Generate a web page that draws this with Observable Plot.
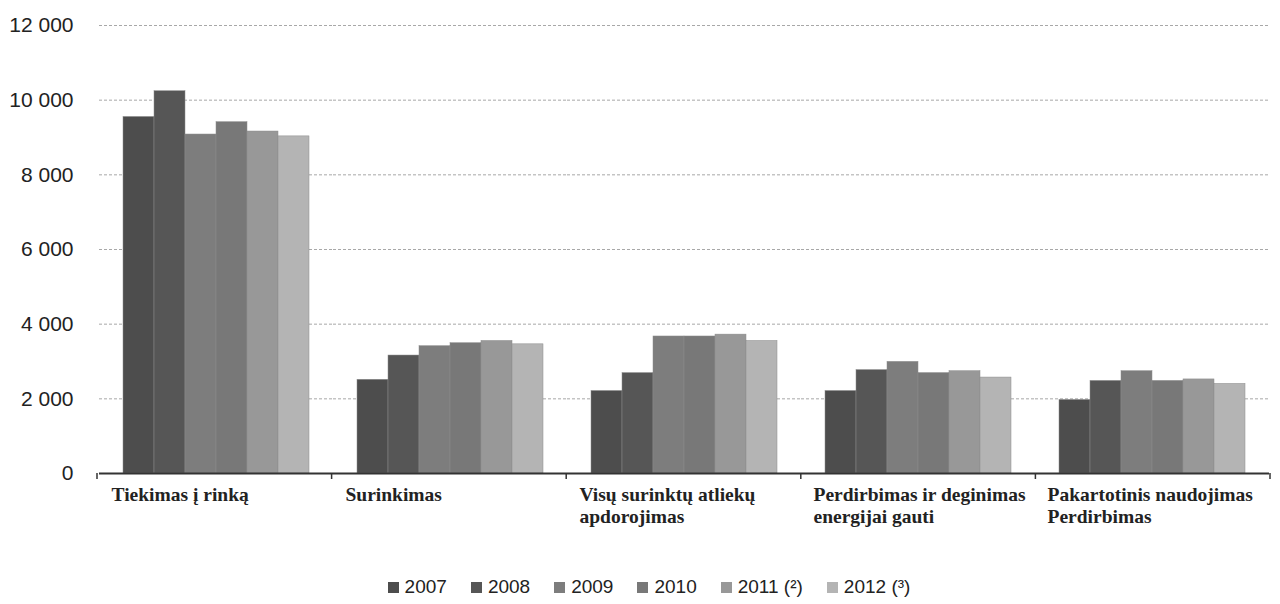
<!DOCTYPE html>
<html lang="lt">
<head>
<meta charset="utf-8">
<script src="https://cdn.jsdelivr.net/npm/d3@7"></script>
<script src="https://cdn.jsdelivr.net/npm/@observablehq/plot@0.6"></script>
<style>
  html, body { margin: 0; padding: 0; background: #fff; }
  #chart { width: 1280px; }
  .legend {
    display: flex; justify-content: center; align-items: center; gap: 24px;
    font-family: "Liberation Sans", Arial, sans-serif; font-size: 19px; color: #222;
    padding-top: 16px; line-height: 22px; padding-left: 18px;
  }
  .legend .item { display: flex; align-items: center; }
  .legend .sw { width: 11px; height: 11px; margin-right: 6px; display: inline-block; }
</style>
</head>
<body>
<div id="chart"></div>
<script>
// Waste categories (x groups)
const categories = [
  "Tiekimas į rinką",
  "Surinkimas",
  "Visų surinktų atliekų\napdorojimas",
  "Perdirbimas ir deginimas\nenergijai gauti",
  "Pakartotinis naudojimas\nPerdirbimas"
];

// Series labels (years) and their grey fills
const years = ["2007", "2008", "2009", "2010", "2011 (²)", "2012 (³)"];
const yearColors = ["#4d4d4d", "#565656", "#7d7d7d", "#787878", "#989898", "#b4b4b4"];

// Tonnes per category, one array per year
const values2007 = [9550, 2510, 2210, 2210, 1970];
const values2008 = [10240, 3160, 2690, 2770, 2480];
const values2009 = [9080, 3410, 3670, 2990, 2740];
const values2010 = [9410, 3490, 3670, 2690, 2480];
const values2011 = [9160, 3550, 3720, 2740, 2520];
const values2012 = [9030, 3460, 3550, 2570, 2400];

// Y axis ticks
const yTicks = [0, 2000, 4000, 6000, 8000, 10000, 12000];

const series = [values2007, values2008, values2009, values2010, values2011, values2012];
const rows = [];
categories.forEach((c, i) => {
  years.forEach((yr, j) => rows.push({category: c, year: yr, value: series[j][i]}));
});

const fmt = d => d3.format(",")(d).replace(/,/g, " ");

const chart = Plot.plot({
  width: 1280,
  height: 560,
  marginTop: 25,
  marginBottom: 87,
  marginLeft: 97,
  marginRight: 10,
  style: {fontFamily: "'Liberation Sans', Arial, sans-serif", fontSize: "21px", color: "#222", background: "#fff"},
  fx: {domain: categories, padding: 0, axis: null},
  x: {domain: years, paddingInner: 0, paddingOuter: 0.73, axis: null},
  y: {domain: [0, 12000], ticks: yTicks, tickFormat: fmt, tickSize: 0, tickPadding: 26, label: null},
  color: {domain: years, range: yearColors},
  marks: [
    Plot.gridY(yTicks.filter(d => d > 0), {stroke: "#a8a8a8", strokeOpacity: 1, strokeDasharray: "3,2"}),
    Plot.barY(rows, {fx: "category", x: "year", y: "value", fill: "year", stroke: "#8c8c8c", strokeWidth: 0.5}),
    Plot.ruleY([0], {stroke: "#333", strokeWidth: 2}),
    Plot.text(categories, {
      fx: d => d, text: d => d,
      frameAnchor: "bottom-left", textAnchor: "start", lineAnchor: "top",
      dx: 12, dy: 13, lineHeight: 1.08,
      fontFamily: "'Liberation Serif', 'Times New Roman', serif", fontWeight: "bold", fontSize: 19.5, fill: "#222"
    })
  ]
});

// Category separator ticks below the baseline
{
  const fxs = chart.scale("fx");
  const ys = chart.scale("y");
  const band = d3.scaleBand(fxs.domain, fxs.range).padding(0);
  const y0 = d3.scaleLinear(ys.domain, ys.range)(0);
  const edges = categories.map(c => band(c)).concat([band(categories[categories.length - 1]) + band.bandwidth()]);
  const g = d3.select(chart).append("g").attr("stroke", "#333").attr("stroke-width", 1.5);
  g.selectAll("line").data(edges).join("line")
    .attr("x1", d => d).attr("x2", d => d)
    .attr("y1", y0).attr("y2", y0 + 6);
}

document.getElementById("chart").append(chart);

// Legend
const legend = d3.select("#chart").append("div").attr("class", "legend");
const items = legend.selectAll(".item").data(years).join("div").attr("class", "item");
items.append("span").attr("class", "sw").style("background", (d, i) => yearColors[i]);
items.append("span").text(d => d);
</script>
</body>
</html>
